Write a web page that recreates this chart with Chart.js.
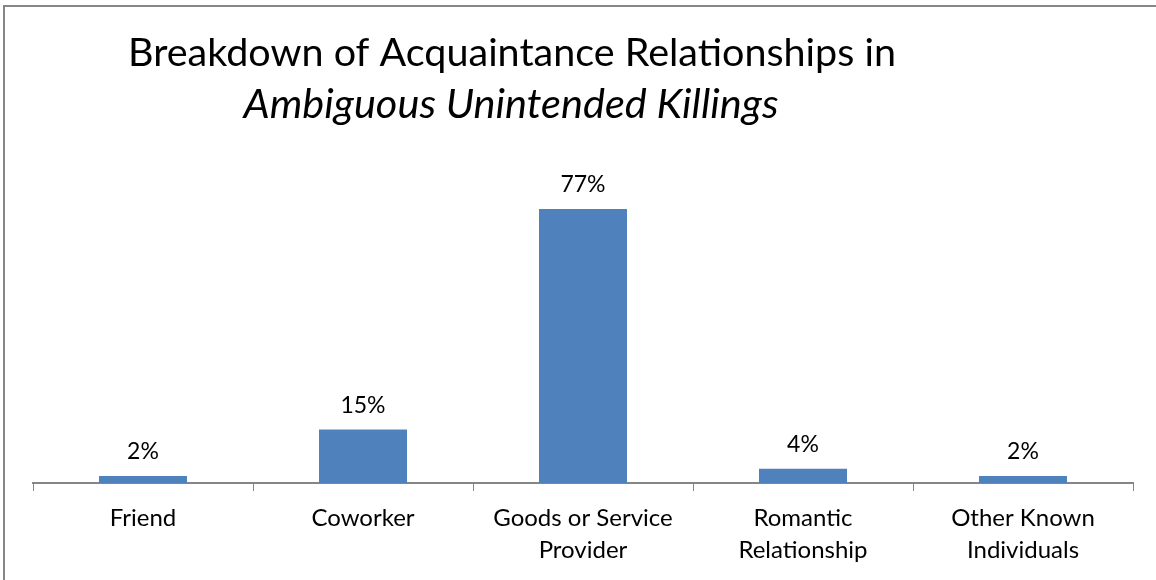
<!DOCTYPE html>
<html lang="en">

<head>
    <meta charset="UTF-8">
    <title>Breakdown of Acquaintance Relationships</title>
    <script src="https://cdn.jsdelivr.net/npm/chart.js"></script>
    <style>
        body {
            margin: 0;
            background: #fff;
            font-family: Lato, "Open Sans", sans-serif;
        }

        #frame {
            position: absolute;
            left: 3px;
            top: 5px;
            width: 1151px;
            height: 573px;
            border-left: 2px solid #878787;
            border-top: 2px solid #878787;
        }
    </style>
</head>

<body>
    <div id="frame">
        <canvas id="chart"></canvas>
    </div>

    <script>
        const categories = [
            'Friend',
            'Coworker',
            ['Goods or Service', 'Provider'],
            ['Romantic', 'Relationship'],
            ['Other Known', 'Individuals']
        ];
        const shares = [2, 15, 77, 4, 2];
        const titleLines = ['Breakdown of Acquaintance Relationships in', 'Ambiguous Unintended Killings'];

        const FONT = 'Lato, "Open Sans", sans-serif';

        // two-line heading, second line in italics
        const headingPlugin = {
            id: 'heading',
            afterDraw(chart) {
                const ctx = chart.ctx;
                ctx.save();
                ctx.fillStyle = '#000';
                ctx.textAlign = 'center';
                ctx.textBaseline = 'alphabetic';
                ctx.font = '39.5px ' + FONT;
                ctx.fillText(titleLines[0], 507, 59);
                ctx.font = 'italic 41.5px ' + FONT;
                ctx.fillText(titleLines[1], 506, 111);
                ctx.restore();
            }
        };

        // percentage printed above each bar
        const valueLabels = {
            id: 'valueLabels',
            afterDatasetsDraw(chart) {
                const ctx = chart.ctx;
                const meta = chart.getDatasetMeta(0);
                ctx.save();
                ctx.fillStyle = '#000';
                ctx.textAlign = 'center';
                ctx.textBaseline = 'alphabetic';
                ctx.font = '23px ' + FONT;
                meta.data.forEach((bar, i) => {
                    ctx.fillText(shares[i] + '%', bar.x, bar.y - 17);
                });
                ctx.restore();
            }
        };

        new Chart(document.getElementById('chart'), {
            type: 'bar',
            data: {
                labels: categories,
                datasets: [{
                    data: shares,
                    backgroundColor: '#4F81BD',
                    borderWidth: 0,
                    barPercentage: 0.4,
                    categoryPercentage: 1
                }]
            },
            options: {
                responsive: true,
                maintainAspectRatio: false,
                animation: false,
                layout: {
                    padding: { left: 28, right: 23, top: 120, bottom: 3 }
                },
                scales: {
                    x: {
                        grid: {
                            drawOnChartArea: false,
                            color: '#868686',
                            tickLength: 8,
                            lineWidth: 1
                        },
                        border: { color: '#868686', width: 2 },
                        ticks: {
                            color: '#000',
                            padding: 11,
                            maxRotation: 0,
                            autoSkip: false,
                            font: { family: FONT, size: 24, lineHeight: 1.333 }
                        }
                    },
                    y: {
                        display: false,
                        min: 0,
                        max: 100
                    }
                },
                plugins: {
                    legend: { display: false },
                    tooltip: { enabled: false }
                }
            },
            plugins: [headingPlugin, valueLabels]
        });
    </script>
</body>

</html>
